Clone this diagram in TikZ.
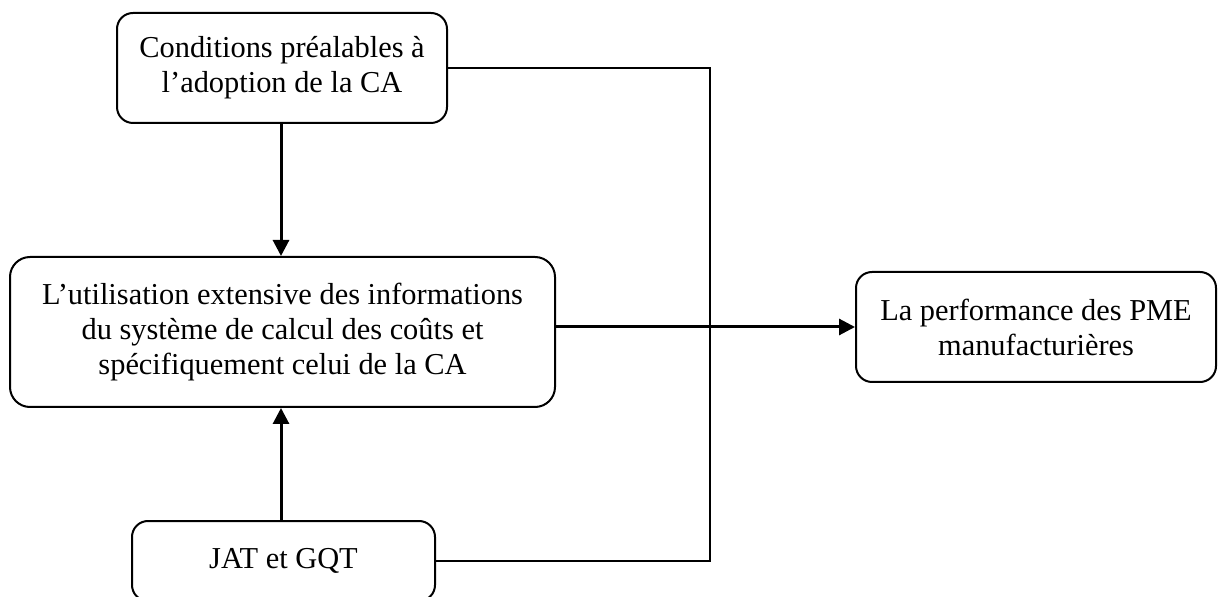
\documentclass[tikz,border=0pt]{standalone}
\usepackage{fontspec}
\setmainfont{Liberation Serif}
\usetikzlibrary{arrows.meta}
\begin{document}
\begin{tikzpicture}[x=0.5pt,y=-0.5pt,
  box/.style={draw, line width=1pt, rounded corners=8pt, inner sep=0pt,
    align=center, font=\fontsize{15.2}{17.5}\selectfont},
  arr/.style={line width=1.5pt, -{Triangle[length=8pt,width=8pt]}},
  link/.style={line width=0.7pt}]
\useasboundingbox (0,0) rectangle (1218,597);
\clip (0,0) rectangle (1218,597);

% boxes
\node[box, minimum width=165pt, minimum height=55pt] (A) at (282,68)
  {Conditions préalables à\\l’adoption de la CA};
\node[box, rounded corners=10pt, minimum width=272.5pt, minimum height=75pt] (B) at (282.5,332)
  {L’utilisation extensive des informations\\du système de calcul des coûts et\\spécifiquement celui de la CA};
\node[box, minimum width=180pt, minimum height=55pt] (C) at (1036,327)
  {La performance des PME\\manufacturières};
\node[box, minimum width=151.5pt, minimum height=40pt] (D) at (283.5,561)
  {JAT et GQT};

% direct influences
\draw[arr] (A.south -| 281,0) -- (B.north -| 281,0);
\draw[arr] (D.north -| 281,0) -- (B.south -| 281,0);
\draw[arr] (C.west -| B.east) -- (C.west);

% link joining the two antecedents
\coordinate (ka) at (710,68);
\coordinate (kd) at (710,561);
\draw[link] (A.east) -- (ka) -- (kd) -- (D.east);
\end{tikzpicture}
\end{document}
